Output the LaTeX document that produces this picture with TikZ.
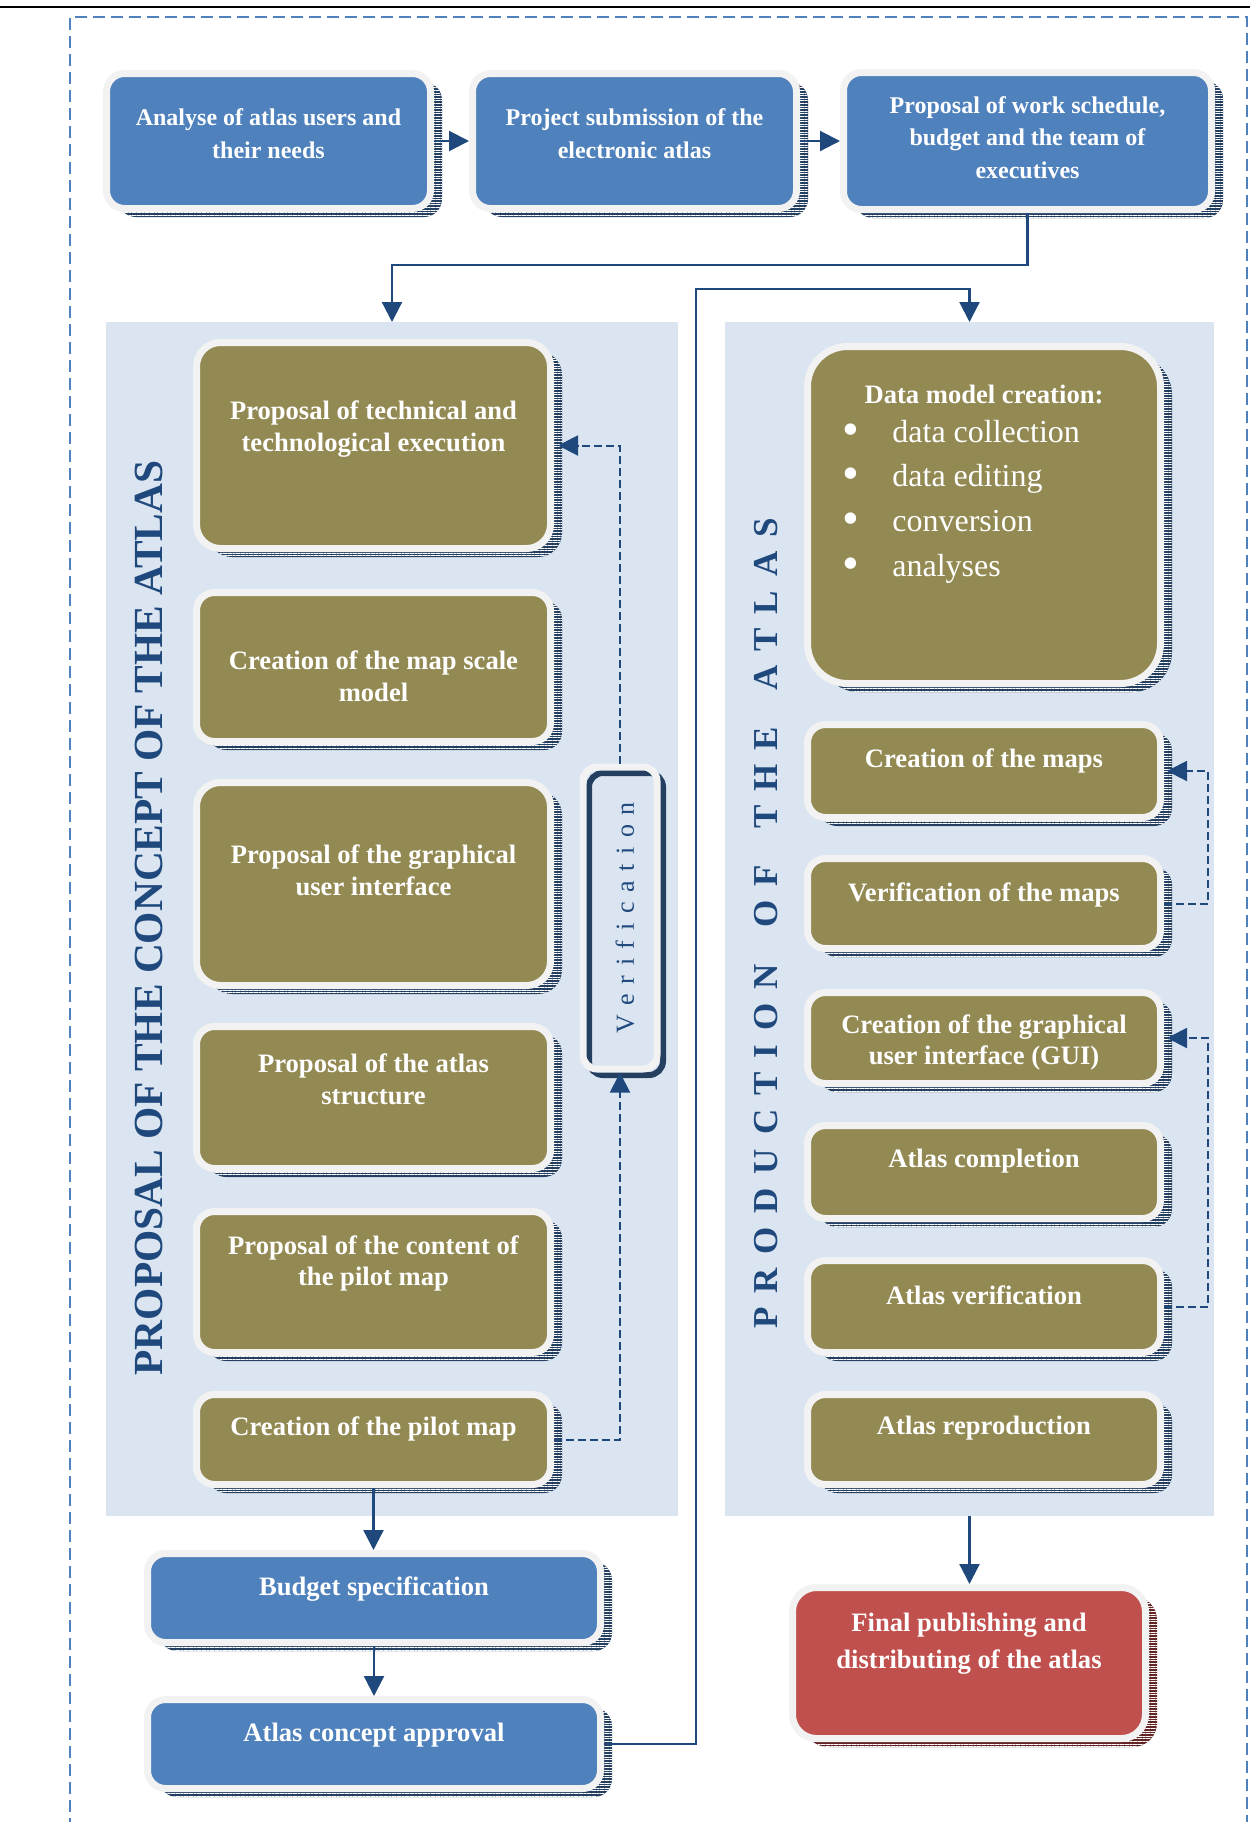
\documentclass[tikz,border=0pt]{standalone}
\usepackage{fontspec}
\setmainfont{Liberation Serif}
\usetikzlibrary{arrows.meta,shadows,patterns.meta}
\definecolor{frameblue}{HTML}{4F81BD}
\definecolor{boxblue}{HTML}{4F81BD}
\definecolor{boxolive}{HTML}{938953}
\definecolor{boxred}{HTML}{C0504D}
\definecolor{rim}{HTML}{F2F2F2}
\definecolor{shnavy}{HTML}{243F60}
\definecolor{shred}{HTML}{632523}
\definecolor{panelc}{HTML}{DBE5F1}
\definecolor{conn}{HTML}{1F497D}
\newcommand{\lsp}{\hspace{6.95pt}}
\newcommand{\vsp}{\hspace{4.8pt}}
\tikzset{
  shstripes/.style={pattern={Lines[angle=0,distance=1.3pt,line width=0.4pt]}, pattern color=white},
  boxshadow/.style={general shadow={fill=#1, shadow xshift=5.75pt, shadow yshift=-4.25pt},
                    general shadow={shstripes, shadow xshift=5.75pt, shadow yshift=-4.25pt}},
  basebox/.style={rectangle, rounded corners=9pt, draw=rim, line width=3.5pt, inner sep=0pt},
  bluebox/.style={basebox, fill=boxblue, boxshadow=shnavy},
  olivebox/.style={basebox, fill=boxolive, boxshadow=shnavy},
  redbox/.style={basebox, fill=boxred, boxshadow=shred},
  panelbox/.style={rectangle, fill=panelc, inner sep=0pt, outer sep=0pt},
  vbox/.style={rectangle, rounded corners=7pt, draw=rim, line width=3.5pt, inner sep=0pt,
               preaction={draw=shnavy, line width=3pt, transform canvas={shift={(3pt,-3pt)}}}},
  toptext/.style={text=white, font=\fontsize{12}{16.2}\selectfont\bfseries, align=center, inner sep=0pt},
  boxtext/.style={text=white, font=\fontsize{13.3}{15.8}\selectfont\bfseries, align=center, inner sep=0pt, yshift=-1.75pt},
  redtext/.style={text=white, font=\fontsize{13.3}{18.5}\selectfont\bfseries, align=center, inner sep=0pt, yshift=-1.2pt},
  itemtext/.style={text=white, font=\fontsize{16}{18}\selectfont, inner sep=0pt, text height=11pt, text depth=3.5pt, yshift=-1.2pt},
  bullettext/.style={text=white, font=\fontsize{24}{24}\selectfont, inner sep=0pt},
  arr/.style={draw=conn, line width=1.1pt, -{Triangle[length=10pt,width=10pt]}},
  darr/.style={draw=conn, line width=1pt, dash pattern=on 4pt off 2pt, -{Triangle[length=10pt,width=10pt]}},
  frame/.style={draw=frameblue, line width=1.3pt, dash pattern=on 6pt off 3pt},
}
\begin{document}
\begin{tikzpicture}[x=0.5pt,y=-0.5pt]
\useasboundingbox (0,0) rectangle (1250,1822);
% top rule and dashed frame
\draw[black, line width=1pt] (0,7) -- (1250,7);
\draw[frame] (70,1830) -- (70,17) -- (1247,17) -- (1247,1830);

% panels
\node[panelbox, minimum width=286pt, minimum height=597pt] (LP) at (392,919) {};
\node[panelbox, minimum width=244.5pt, minimum height=597pt] (RP) at (969.5,919) {};

% top row
\node[bluebox, minimum width=162pt, minimum height=67.5pt] (B1) at (268.5,141) {};
\node[bluebox, minimum width=162pt, minimum height=67.5pt] (B2) at (634.5,141) {};
\node[bluebox, minimum width=184pt, minimum height=68.5pt] (B3) at (1027.5,141) {};
\node[toptext] (B1t) at (268.5,133.5) {Analyse of atlas users and\\their needs};
\node[toptext] (B2t) at (634.5,133.5) {Project submission of the\\electronic atlas};
\node[toptext] (B3t) at (1027.5,137.5) {Proposal of work schedule,\\budget and the team of\\executives};

% left column
\node[olivebox, rounded corners=12pt, minimum width=177pt, minimum height=103pt] (L1) at (373.5,445.5) {};
\node[olivebox, minimum width=177pt, minimum height=74.5pt] (L2) at (373.5,667) {};
\node[olivebox, rounded corners=12pt, minimum width=177pt, minimum height=101.5pt] (L3) at (373.5,884) {};
\node[olivebox, minimum width=177pt, minimum height=71pt] (L4) at (373.5,1097.5) {};
\node[olivebox, minimum width=177pt, minimum height=70.5pt] (L5) at (373.5,1282) {};
\node[olivebox, minimum width=177pt, minimum height=45pt] (L6) at (373.5,1439.5) {};
\node[boxtext] (L1t) at (373.5,425.5) {Proposal of technical and\\technological execution};
\node[boxtext] (L2t) at (373.5,672.5) {Creation of the map scale\\model};
\node[boxtext] (L3t) at (373.5,866.5) {Proposal of the graphical\\user interface};
\node[boxtext] (L4t) at (373.5,1076) {Proposal of the atlas\\structure};
\node[boxtext] (L5t) at (373.5,1260) {Proposal of the content of\\the pilot map};
\node[boxtext] (L6t) at (373.5,1425) {Creation of the pilot map};

% verification box
\node[vbox, minimum width=37pt, minimum height=151pt] (V) at (620,918) {};
\node[rotate=90, text=conn, font=\fontsize{13}{14}\selectfont, inner sep=0pt] (Vt) at (625,918)
  {V\vsp e\vsp r\vsp i\vsp f\vsp i\vsp c\vsp a\vsp t\vsp i\vsp o\vsp n};

% right column
\node[olivebox, rounded corners=20pt, minimum width=176.5pt, minimum height=168.5pt] (R1) at (984,515) {};
\node[olivebox, minimum width=176.5pt, minimum height=46.5pt] (R2) at (984,771) {};
\node[olivebox, minimum width=176.5pt, minimum height=45pt] (R3) at (984,903.5) {};
\node[olivebox, minimum width=176.5pt, minimum height=45.5pt] (R4) at (984,1038) {};
\node[olivebox, minimum width=176.5pt, minimum height=46.5pt] (R5) at (984,1172) {};
\node[olivebox, minimum width=176.5pt, minimum height=46pt] (R6) at (984,1306.5) {};
\node[olivebox, minimum width=176.5pt, minimum height=45pt] (R7) at (984,1439.5) {};
\node[boxtext] (R1t) at (984,391) {Data model creation:};
\node[bullettext] (b1) at (851,435) {•};
\node[bullettext] (b2) at (851,479) {•};
\node[bullettext] (b3) at (851,524) {•};
\node[bullettext] (b4) at (851,569) {•};
\node[itemtext, anchor=west] (i1) at (892,433) {data collection};
\node[itemtext, anchor=west] (i2) at (892,477) {data editing};
\node[itemtext, anchor=west] (i3) at (892,522) {conversion};
\node[itemtext, anchor=west] (i4) at (892,567) {analyses};
\node[boxtext] (R2t) at (984,757) {Creation of the maps};
\node[boxtext] (R3t) at (984,891) {Verification of the maps};
\node[boxtext] (R4t) at (984,1039) {Creation of the graphical\\user interface (GUI)};
\node[boxtext] (R5t) at (984,1158) {Atlas completion};
\node[boxtext] (R6t) at (984,1292) {Atlas verification};
\node[boxtext] (R7t) at (984,1425) {Atlas reproduction};

% vertical panel labels
\node[rotate=90, text=conn, font=\fontsize{20.7}{22}\selectfont\bfseries, inner sep=0pt] (LPl) at (149,918)
  {PROPOSAL OF THE CONCEPT OF THE ATLAS};
\node[rotate=90, text=conn, font=\fontsize{17.5}{20}\selectfont\bfseries, inner sep=0pt] (RPl) at (766,923.5)
  {P\lsp R\lsp O\lsp D\lsp U\lsp C\lsp T\lsp I\lsp O\lsp N\lsp\ \lsp O\lsp F\lsp\ \lsp T\lsp H\lsp E\lsp\ \lsp A\lsp T\lsp L\lsp A\lsp S};

% bottom boxes
\node[bluebox, minimum width=226.5pt, minimum height=44.5pt] (BS) at (374,1598) {};
\node[bluebox, minimum width=226.5pt, minimum height=44.5pt] (AC) at (374,1744) {};
\node[redbox, rounded corners=12pt, minimum width=176.5pt, minimum height=75.5pt] (FP) at (969,1663) {};
\node[boxtext] (BSt) at (374,1586) {Budget specification};
\node[boxtext] (ACt) at (374,1732) {Atlas concept approval};
\node[redtext] (FPt) at (969,1641.5) {Final publishing and\\distributing of the atlas};

% connectors
\coordinate (k1) at (696,289);
\draw[arr] (B1.east) -- (B2.west);
\draw[arr] (B2.east) -- (B3.west);
\draw[arr] (B3.south) -- ++(0,52) -| (LP.north);
\draw[arr] (AC.east) -| (k1) -| (RP.north);
\draw[arr] (L6.south) -- (L6.south |- BS.north);
\draw[arr] (BS.south) -- (BS.south |- AC.north);
\draw[arr] (RP.south) -- (RP.south |- FP.north);
\draw[darr] (L6.east) -| (V.south);
\draw[darr] (V.north) |- ([xshift=2pt]L1.east);
\draw[darr] (R3.east) -- ++(44,0) |- ([xshift=1.5pt]R2.east);
\draw[darr] (R6.east) -- ++(44,0) |- ([xshift=1.5pt]R4.east);
\end{tikzpicture}
\end{document}
